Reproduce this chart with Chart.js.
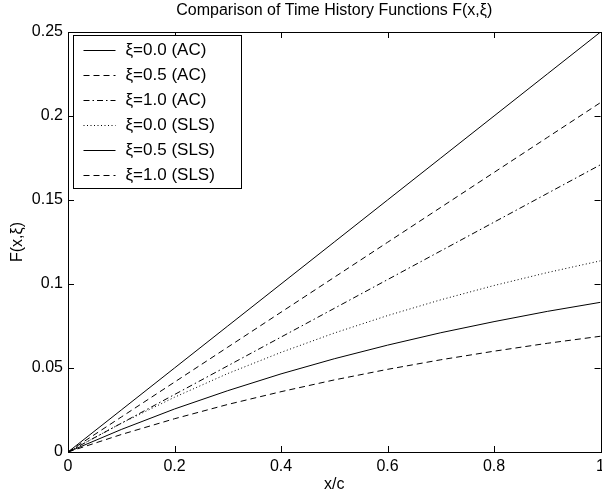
<!DOCTYPE html>
<html>
<head>
<meta charset="utf-8">
<script src="https://cdn.jsdelivr.net/npm/chart.js@4/dist/chart.umd.min.js"></script>
<style>
  html, body { margin: 0; padding: 0; background: #fff; overflow: hidden; }
  #wrap { position: relative; width: 610px; height: 498px; }
</style>
</head>
<body>
<div id="wrap"><canvas id="chartF"></canvas></div>
<script>
const xValues = [0, 0.1, 0.2, 0.3, 0.4, 0.5, 0.6, 0.7, 0.8, 0.9, 1.0]
const acXi00 = [0, 0.025, 0.05, 0.075, 0.1, 0.125, 0.15, 0.175, 0.2, 0.225, 0.25]
const acXi05 = [0, 0.0208, 0.0416, 0.0624, 0.0832, 0.104, 0.1248, 0.1456, 0.1664, 0.1872, 0.208]
const acXi10 = [0, 0.0171, 0.0342, 0.0513, 0.0684, 0.0855, 0.1026, 0.1197, 0.1368, 0.1539, 0.171]
const slsXi00 = [0, 0.0171, 0.0326, 0.0467, 0.0593, 0.0708, 0.0812, 0.0906, 0.0991, 0.1068, 0.1138]
const slsXi05 = [0, 0.0134, 0.0256, 0.0365, 0.0465, 0.0555, 0.0636, 0.0710, 0.0776, 0.0837, 0.0891]
const slsXi10 = [0, 0.0104, 0.0198, 0.0283, 0.0359, 0.0429, 0.0492, 0.0549, 0.0600, 0.0647, 0.0689]
const seriesNames = ['ξ=0.0 (AC)', 'ξ=0.5 (AC)', 'ξ=1.0 (AC)', 'ξ=0.0 (SLS)', 'ξ=0.5 (SLS)', 'ξ=1.0 (SLS)']
const xTicks = [0, 0.2, 0.4, 0.6, 0.8, 1]
const yTicks = [0, 0.05, 0.1, 0.15, 0.2, 0.25]

const FONT = 'Liberation Sans, Arial, Helvetica, sans-serif'
const dashes = [[], [6, 4], [6, 3, 1.5, 3], [1, 2.5], [], [6, 4]]

const pts = arr => xValues.map((x, i) => ({ x: x, y: arr[i] }))
const allSeries = [acXi00, acXi05, acXi10, slsXi00, slsXi05, slsXi10]

// marco, ticks hacia dentro, titulo y leyenda estilo matlab
const matlabBox = {
  id: 'matlabBox',
  afterDatasetsDraw (chart) {
    const { ctx, chartArea: a, scales } = chart
    ctx.save()
    ctx.strokeStyle = '#000'
    ctx.lineWidth = 1
    ctx.setLineDash([])
    ctx.strokeRect(Math.round(a.left) + 0.5, Math.round(a.top) + 0.5, Math.round(a.right - a.left), Math.round(a.bottom - a.top))
    ctx.beginPath()
    xTicks.forEach(v => {
      const px = Math.round(scales.x.getPixelForValue(v)) + 0.5
      ctx.moveTo(px, a.bottom); ctx.lineTo(px, a.bottom - 6)
      ctx.moveTo(px, a.top); ctx.lineTo(px, a.top + 6)
    })
    yTicks.forEach(v => {
      const py = Math.round(scales.y.getPixelForValue(v)) + 0.5
      ctx.moveTo(a.left, py); ctx.lineTo(a.left + 6, py)
      ctx.moveTo(a.right, py); ctx.lineTo(a.right - 6, py)
    })
    ctx.stroke()

    // titulo
    ctx.fillStyle = '#000'
    ctx.font = '16px ' + FONT
    ctx.textAlign = 'center'
    ctx.textBaseline = 'middle'
    ctx.fillText('Comparison of Time History Functions F(x,ξ)', (a.left + a.right) / 2, 11)

    // leyenda
    const lx = Math.round(a.left) + 5.5
    const ly = Math.round(a.top) + 3.5
    ctx.fillStyle = '#fff'
    ctx.fillRect(lx, ly, 168, 153)
    ctx.strokeRect(lx, ly, 168, 153)
    ctx.font = '17px ' + FONT
    ctx.textAlign = 'left'
    chart.data.datasets.forEach((ds, i) => {
      const cy = ly + 14 + i * 25
      ctx.beginPath()
      ctx.setLineDash(ds.borderDash)
      ctx.moveTo(lx + 10, Math.round(cy) + 0.5)
      ctx.lineTo(lx + 42, Math.round(cy) + 0.5)
      ctx.stroke()
      ctx.setLineDash([])
      ctx.fillStyle = '#000'
      ctx.fillText(ds.label, lx + 52, cy + 1)
    })
    ctx.restore()
  }
}

const ctx = document.getElementById('chartF')
new Chart(ctx, {
  type: 'line',
  data: {
    datasets: allSeries.map((s, i) => ({
      label: seriesNames[i],
      data: pts(s),
      borderColor: '#000',
      borderWidth: 1,
      borderDash: dashes[i],
      pointRadius: 0,
      tension: 0,
      fill: false
    }))
  },
  options: {
    responsive: true,
    maintainAspectRatio: false,
    animation: false,
    layout: { padding: { top: 32, right: 0, left: 0, bottom: 0 } },
    plugins: {
      legend: { display: false },
      title: { display: false },
      tooltip: { enabled: false }
    },
    scales: {
      x: {
        type: 'linear',
        min: 0,
        max: 1,
        afterBuildTicks: s => { s.ticks = xTicks.map(v => ({ value: v })) },
        afterFit: s => { s.height = 46 },
        grid: { display: false, drawTicks: false },
        border: { display: false },
        ticks: {
          color: '#000',
          font: { family: FONT, size: 16 },
          padding: 5,
          maxRotation: 0,
          callback: v => String(v)
        },
        title: {
          display: true,
          text: 'x/c',
          color: '#000',
          font: { family: FONT, size: 16 },
          padding: { top: 0, bottom: 4 }
        }
      },
      y: {
        type: 'linear',
        min: 0,
        max: 0.25,
        afterBuildTicks: s => { s.ticks = yTicks.map(v => ({ value: v })) },
        afterFit: s => { s.width = 68 },
        grid: { display: false, drawTicks: false },
        border: { display: false },
        ticks: {
          color: '#000',
          font: { family: FONT, size: 16 },
          padding: 5,
          callback: v => String(v)
        },
        title: {
          display: true,
          text: 'F(x,ξ)',
          color: '#000',
          font: { family: FONT, size: 16 },
          padding: { top: 8, bottom: 0 }
        }
      }
    }
  },
  plugins: [matlabBox]
})
</script>
</body>
</html>
